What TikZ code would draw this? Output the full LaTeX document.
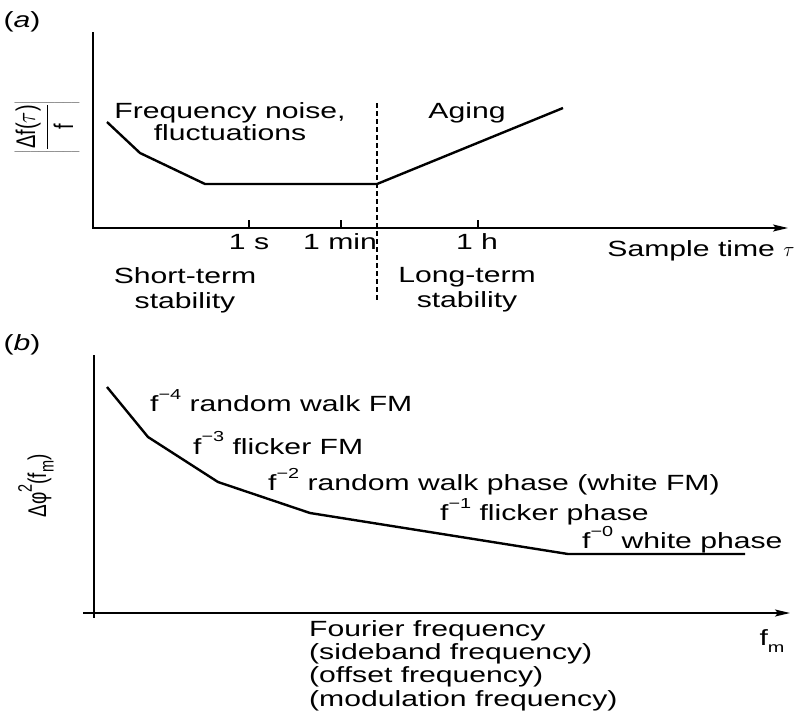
\documentclass[tikz,border=0pt]{standalone}
\usepackage{fontspec}
\setmainfont{Liberation Sans}[FakeStretch=1.37]
\newfontfamily\plainsans{Liberation Sans}
\usetikzlibrary{arrows.meta}
\newcommand\sups[1]{\raisebox{0.55em}{\fontsize{14.5}{14.5}\selectfont #1}}
\newcommand\subsm[1]{\raisebox{-0.3em}{\fontsize{14.5}{14.5}\selectfont #1}}
\begin{document}
\begin{tikzpicture}[x=1pt,y=-1pt,
  lbl/.style={font=\fontsize{22}{24}\selectfont, inner sep=0pt},
  axis/.style={line width=1.8pt},
  curve/.style={line width=2.4pt, line join=round},
  tickmark/.style={line width=1.5pt},
  tip/.style={-{Stealth[length=15pt,width=7pt,inset=3pt]}}]
\useasboundingbox (0,0) rectangle (798,713);
\fill[white] (0,0) rectangle (798,713);
% ---------- panel (a) ----------
\node[lbl] (la) at (22,22) {(\textit{a})};
\coordinate (atop) at (93,32);
\coordinate (aend) at (788,228);
\draw[axis,tip] (atop) |- (aend);
\coordinate (t1) at (249,228);
\coordinate (t2) at (341,228);
\coordinate (t3) at (478,228);
\foreach \t in {t1,t2,t3}{\draw[tickmark] (\t) -- ++(0,-8);}
\coordinate (dtop) at (377,103);
\coordinate (dbot) at (377,302);
\draw[line width=1.3pt, dash pattern=on 5pt off 3pt] (dtop) -- (dbot);
\draw[curve] (107,122) -- (140,153) -- (205,184) -- (377,184) -- (563,108);
\node[lbl, align=center, font=\fontsize{22}{22}\selectfont] (fn) at (230,122) {Frequency noise,\\fluctuations};
\node[lbl] (ag) at (467,113) {Aging};
\node[lbl] (l1s) at (249,242) {1 s};
\node[lbl] (l1m) at (340,242) {1 min};
\node[lbl] (l1h) at (477,242) {1 h};
\node[lbl] (st) at (701,251) {Sample time $\tau$};
\node[lbl, align=center, font=\fontsize{22}{25}\selectfont] (sts) at (185,290) {Short-term\\stability};
\node[lbl, align=center, font=\fontsize{22}{25}\selectfont] (lts) at (467,290) {Long-term\\stability};
\node[inner sep=0pt] (ya) at (47,127) {\scalebox{1.35}[1]{\rotatebox{90}{\plainsans\fontsize{20}{22}\selectfont
  $\left|\vcenter{\hbox{\rule{0pt}{50pt}}}\displaystyle\frac{\mbox{Δf(}\tau\mbox{)}}{\mbox{f}}\right|$}}};
% ---------- panel (b) ----------
\node[lbl] (lb) at (22,345) {(\textit{b})};
\coordinate (btop) at (94,355);
\coordinate (bbot) at (94,618);
\draw[axis] (btop) -- (bbot);
\coordinate (bst) at (83,613);
\coordinate (bend) at (790,613);
\draw[axis,tip] (bst) -- (bend);
\draw[curve] (107,387) -- (148,437) -- (218,482) -- (310,513) -- (568,554) -- (745,554);
\node[lbl, anchor=west] (n4) at (150,401) {f\sups{−4} random walk FM};
\node[lbl, anchor=west] (n3) at (193,443) {f\sups{−3} flicker FM};
\node[lbl, anchor=west] (n2) at (268,482) {f\sups{−2} random walk phase (white FM)};
\node[lbl, anchor=west] (n1) at (440,512) {f\sups{−1} flicker phase};
\node[lbl, anchor=west] (n0) at (582,540) {f\sups{−0} white phase};
\node[lbl, anchor=north west, align=left, font=\fontsize{22}{23.3}\selectfont] (ff) at (309,620)
  {Fourier frequency\\(sideband frequency)\\(offset frequency)\\(modulation frequency)};
\node[lbl] (fm) at (772,641) {f\subsm{m}};
\node[inner sep=0pt] (yb) at (36,486) {\scalebox{1.35}[1]{\rotatebox{90}{\plainsans\fontsize{19}{20}\selectfont
  Δφ\sups{2}(f\subsm{m})}}};
\end{tikzpicture}
\end{document}
